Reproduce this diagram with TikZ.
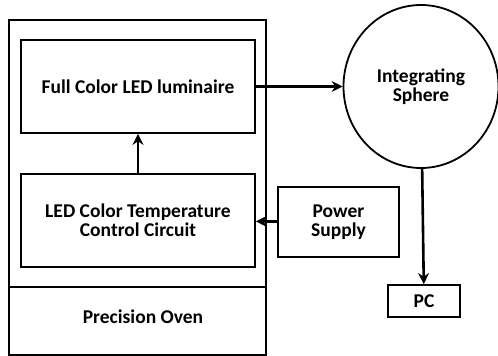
\documentclass[tikz,border=0pt]{standalone}
\usepackage{fontspec}
\setmainfont{Carlito}
\usetikzlibrary{arrows.meta,shapes.geometric}
\begin{document}
\begin{tikzpicture}
  [x=1pt,y=-1pt,every node/.style={draw=black,line width=1.8pt,font=\bfseries\fontsize{19.5}{19}\selectfont,align=center,inner sep=0pt},
   blok/.style={rectangle},
   flow/.style={line width=2.6pt,-{Stealth[length=11pt,width=11pt]}}]
\useasboundingbox (0,0) rectangle (498,356);
  % Horno y bloques interiores
  \draw[line width=1.8pt] (9,20) rectangle (266,355);
  \draw[line width=1.8pt] (9,287) -- (266,287);
  \node[draw=none] (oven) at (143,317) {Precision Oven};
  \node[blok,minimum width=234pt,minimum height=93pt] (lum)  at (138,86.5) {Full Color LED luminaire};
  \node[blok,minimum width=234pt,minimum height=93pt] (ctrl) at (138,220.5) {LED Color Temperature\\Control Circuit};
  \node[blok,minimum width=121pt,minimum height=70pt] (psu)  at (338.5,222) {Power\\Supply};
  \node[blok,minimum width=72pt,minimum height=32pt]  (pc)   at (424,301) {PC};
  \node[ellipse,minimum width=155pt,minimum height=163pt] (sph) at (421,86.5) {Integrating\\Sphere};

  % Conexiones
  \foreach \from/\to in {lum/sph, ctrl/lum, psu/ctrl, sph/pc}
    \draw[flow] (\from) -- (\to);
\end{tikzpicture}
\end{document}
